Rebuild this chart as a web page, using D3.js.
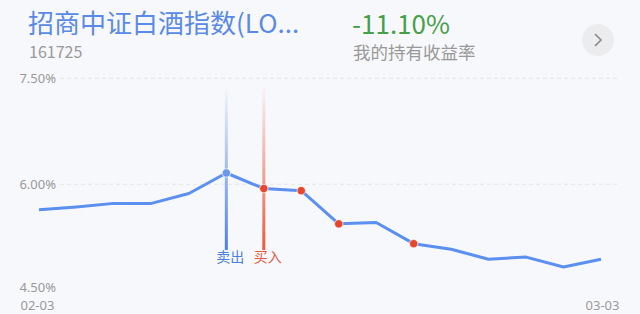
<!DOCTYPE html>
<html>
<head>
<meta charset="utf-8">
<script src="https://cdn.jsdelivr.net/npm/d3@7"></script>
<style>
  html, body { margin: 0; padding: 0; background: #f7f8fb; }
  body { width: 640px; height: 314px; overflow: hidden; font-family: "Noto Sans CJK SC", "Noto Sans", sans-serif; }
  .tick text { fill: #999; font-size: 13px; font-family: "Noto Sans", "Noto Sans CJK SC", sans-serif; }
</style>
</head>
<body>
<div id="chart"></div>
<script>
// fund info
var fundName = "招商中证白酒指数(LO...";
var fundCode = "161725";
var holdReturn = "-11.10%";
var holdLabel = "我的持有收益率";

// daily series (percent)
var dates = ["02-03", "02-05", "02-07", "02-10", "02-12", "02-14", "02-17", "02-19",
             "02-20", "02-21", "02-24", "02-25", "02-26", "02-27", "02-28", "03-03"];
var values = [5.64, 5.68, 5.73, 5.73, 5.87, 6.16, 5.94, 5.91,
              5.44, 5.46, 5.16, 5.08, 4.94, 4.97, 4.83, 4.94];

// trade marks
var sellDays = ["02-14"];
var buyDays = ["02-17"];
var dotDays = ["02-19", "02-20", "02-24"];

var yTicks = [4.5, 6.0, 7.5];
var xTickLabels = ["02-03", "03-03"];

var data = dates.map(function (d, i) { return { date: d, value: values[i] }; });

var width = 640, height = 314;
var svg = d3.select("#chart").append("svg")
    .attr("width", width).attr("height", height);

var defs = svg.append("defs");
function makeGrad(id, color) {
    var g = defs.append("linearGradient").attr("id", id)
        .attr("x1", 0).attr("y1", 0).attr("x2", 0).attr("y2", 1);
    g.append("stop").attr("offset", "0%").attr("stop-color", color).attr("stop-opacity", 0);
    g.append("stop").attr("offset", "45%").attr("stop-color", color).attr("stop-opacity", 0.45);
    g.append("stop").attr("offset", "100%").attr("stop-color", color).attr("stop-opacity", 1);
}
makeGrad("gradSell", "#4b7fea");
makeGrad("gradBuy", "#ea5a3c");

// header
svg.append("text").attr("x", 28).attr("y", 33)
    .attr("font-size", 26).attr("fill", "#5a8ae6").text(fundName);
svg.append("text").attr("x", 29).attr("y", 58)
    .attr("font-size", 16).attr("fill", "#999").text(fundCode);
svg.append("text").attr("x", 352).attr("y", 34)
    .attr("font-size", 26).attr("fill", "#45a049").text(holdReturn);
svg.append("text").attr("x", 353).attr("y", 59)
    .attr("font-size", 17.5).attr("fill", "#999").text(holdLabel);

// arrow button
svg.append("circle").attr("cx", 598).attr("cy", 40).attr("r", 16).attr("fill", "#ececee");
svg.append("path").attr("d", "M595,34 L601,40 L595,46")
    .attr("fill", "none").attr("stroke", "#888").attr("stroke-width", 1.6);

// scales
var x = d3.scalePoint().domain(dates).range([39, 601]);
var y = d3.scaleLinear().domain([4.5, 7.5]).range([290.3, 78.3]);

// gridlines
svg.append("g")
    .selectAll("line")
    .data(yTicks.filter(function (t) { return t > 4.5; }))
    .join("line")
    .attr("x1", 60).attr("x2", 618)
    .attr("y1", function (d) { return y(d); }).attr("y2", function (d) { return y(d); })
    .attr("stroke", "#e3e5ea").attr("stroke-dasharray", "4,3");

// y axis labels
var yAxis = d3.axisLeft(y).tickValues(yTicks).tickSize(0).tickPadding(0)
    .tickFormat(function (d) { return d3.format(".2f")(d) + "%"; });
var gy = svg.append("g").attr("transform", "translate(56,0)").call(yAxis);
gy.select(".domain").remove();
gy.selectAll(".tick text").attr("dy", function (d) { return d === 4.5 ? "0.1em" : "0.32em"; });

// x axis labels (ends only)
var gx = svg.append("g").attr("transform", "translate(0,300.5)")
    .call(d3.axisBottom(x).tickValues(xTickLabels).tickSize(0).tickPadding(0));
gx.select(".domain").remove();
gx.selectAll(".tick text").attr("text-anchor", function (d, i) { return i === 0 ? "start" : "end"; })
    .attr("dy", "0.71em").attr("dx", function (d, i) { return i === 0 ? -19 : 18; });

// trade vertical lines
function tradeLines(days, grad, color, label, dx) {
    days.forEach(function (d) {
        svg.append("rect")
            .attr("x", x(d) - 1.5).attr("y", 85)
            .attr("width", 3).attr("height", 250 - 85)
            .attr("fill", "url(#" + grad + ")");
        svg.append("text")
            .attr("x", x(d) + dx).attr("y", 262)
            .attr("text-anchor", "middle").attr("font-size", 14)
            .attr("fill", color).text(label);
    });
}
tradeLines(sellDays, "gradSell", "#4a7fe0", "卖出", 4);
tradeLines(buyDays, "gradBuy", "#e5593c", "买入", 4);

// main line
var line = d3.line()
    .x(function (d) { return x(d.date); })
    .y(function (d) { return y(d.value); });
svg.append("path").datum(data)
    .attr("d", line)
    .attr("fill", "none").attr("stroke", "#5b8ff0")
    .attr("stroke-width", 3).attr("stroke-linejoin", "round");

// dots
function dotsFor(days, color) {
    svg.append("g").selectAll("circle")
        .data(data.filter(function (d) { return days.indexOf(d.date) >= 0; }))
        .join("circle")
        .attr("cx", function (d) { return x(d.date); })
        .attr("cy", function (d) { return y(d.value); })
        .attr("r", 4.2)
        .attr("fill", color)
        .attr("stroke", "#f7f8fb").attr("stroke-width", 0.8);
}
dotsFor(sellDays, "#6b97ee");
dotsFor(buyDays.concat(dotDays), "#e8452c");
</script>
</body>
</html>
